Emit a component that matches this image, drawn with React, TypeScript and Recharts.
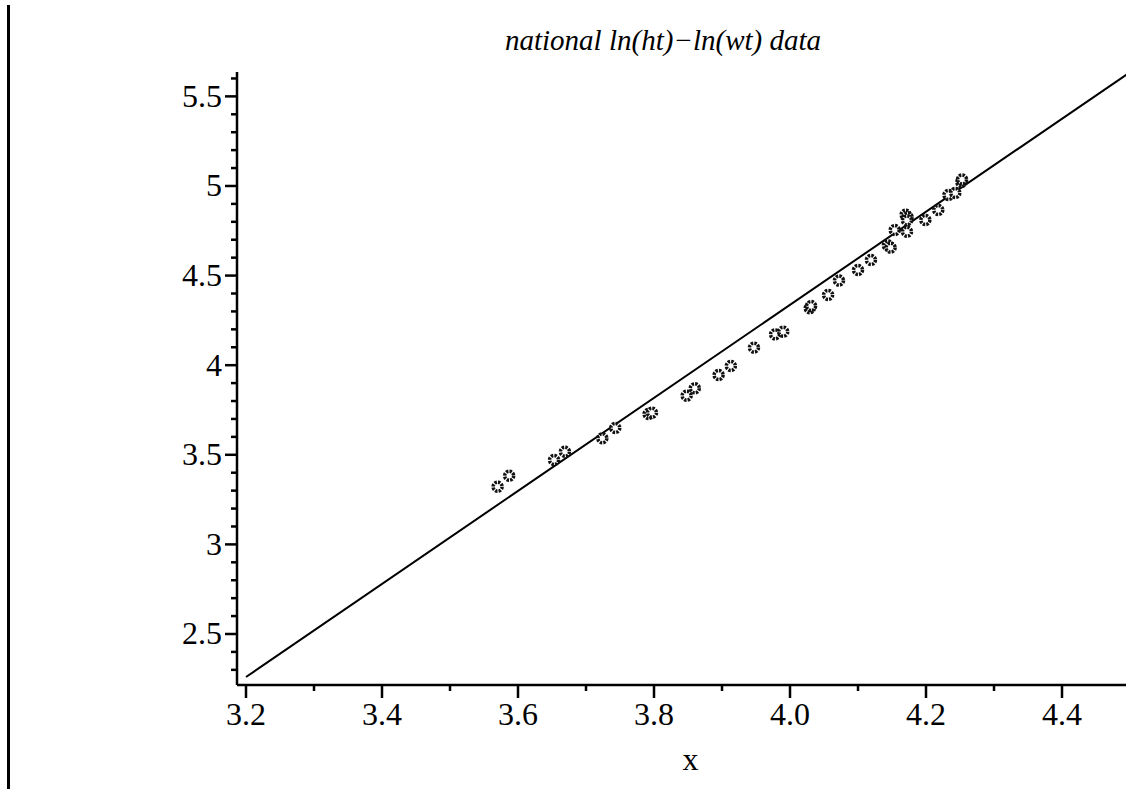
import React from 'react';
import { ScatterChart, Scatter, XAxis, YAxis } from 'recharts';

const lnHt = [
  3.570, 3.587, 3.653, 3.669, 3.724, 3.743, 3.792, 3.797, 3.848, 3.860,
  3.895, 3.913, 3.947, 3.978, 3.990, 4.029, 4.031, 4.056, 4.072, 4.100,
  4.119, 4.144, 4.148, 4.154, 4.172, 4.170, 4.173, 4.172, 4.199, 4.218,
  4.233, 4.243, 4.252, 4.253,
];
const lnWt = [
  3.322, 3.383, 3.471, 3.517, 3.592, 3.650, 3.728, 3.735, 3.830, 3.871,
  3.945, 3.996, 4.098, 4.172, 4.187, 4.318, 4.330, 4.392, 4.472, 4.531,
  4.587, 4.668, 4.656, 4.754, 4.745, 4.840, 4.825, 4.808, 4.810, 4.866,
  4.950, 4.961, 5.022, 5.036,
];

// fitted line endpoints
const fitX = [3.2, 4.5];
const fitY = [2.26, 5.635];

const xMajorTicks = [3.2, 3.4, 3.6, 3.8, 4.0, 4.2, 4.4];
const xMinorTicks = [3.3, 3.5, 3.7, 3.9, 4.1, 4.3];
const yMajorTicks = [2.5, 3, 3.5, 4, 4.5, 5, 5.5];
const yMinorTicks = [
  2.3, 2.4, 2.6, 2.7, 2.8, 2.9, 3.1, 3.2, 3.3, 3.4, 3.6, 3.7, 3.8, 3.9,
  4.1, 4.2, 4.3, 4.4, 4.6, 4.7, 4.8, 4.9, 5.1, 5.2, 5.3, 5.4, 5.6,
];

const points = lnHt.map((x, i) => ({ x, y: lnWt[i] }));
const fitLine = fitX.map((x, i) => ({ x, y: fitY[i] }));

const FONT = 'Liberation Serif, Times New Roman, serif';

const XTick = (props: any) => {
  const { x, y, payload } = props;
  const major = xMajorTicks.includes(payload.value);
  return (
    <g>
      <line x1={x} x2={x} y1={y} y2={y + (major ? 13 : 6)} stroke="#000" strokeWidth={2.5} />
      {major && (
        <text x={x} y={y + 40} textAnchor="middle" fontSize={32} style={{ fontFamily: FONT }} fill="#000">
          {payload.value.toFixed(1)}
        </text>
      )}
    </g>
  );
};

const YTick = (props: any) => {
  const { x, y, payload } = props;
  const major = yMajorTicks.includes(payload.value);
  return (
    <g>
      <line x1={x} x2={x - (major ? 12 : 6)} y1={y} y2={y} stroke="#000" strokeWidth={2.5} />
      {major && (
        <text x={x - 15} y={y + 10.5} textAnchor="end" fontSize={32} style={{ fontFamily: FONT }} fill="#000">
          {String(payload.value)}
        </text>
      )}
    </g>
  );
};

const Ring = (props: any) => {
  const { cx, cy } = props;
  if (cx == null || cy == null) return <g />;
  return (
    <circle cx={cx} cy={cy} r={4.5} fill="#fff" stroke="#111" strokeWidth={3.5} strokeDasharray="2.4 1.1" />
  );
};

export default function App() {
  return (
    <div style={{ position: 'absolute', left: 0, top: 0, width: 1126, height: 789, background: '#fff', fontFamily: FONT }}>
      <div style={{ position: 'absolute', left: 7, top: 5, width: 3, height: 784, background: '#000' }} />
      <div
        style={{
          position: 'absolute',
          left: 463,
          top: 26,
          width: 400,
          textAlign: 'center',
          fontFamily: FONT,
          fontStyle: 'italic',
          fontSize: 29,
          lineHeight: '29px',
          color: '#000',
          whiteSpace: 'nowrap',
        }}
      >
        national ln(ht)−ln(wt) data
      </div>
      <ScatterChart width={1126} height={789} margin={{ top: 72, right: 0, bottom: 0, left: 0 }}>
        <XAxis
          type="number"
          dataKey="x"
          domain={[3.18676, 4.4941]}
          allowDataOverflow
          ticks={[...xMajorTicks, ...xMinorTicks].sort((a, b) => a - b)}
          interval={0}
          height={104}
          tickSize={0}
          tickMargin={0}
          tickLine={false}
          tick={<XTick />}
          axisLine={{ stroke: '#000', strokeWidth: 2.5 }}
          label={{ value: 'x', position: 'insideBottom', offset: 19, dx: 9, fontSize: 32, style: { fontFamily: FONT }, fill: '#000' }}
        />
        <YAxis
          type="number"
          dataKey="y"
          domain={[2.2154, 5.636]}
          allowDataOverflow
          ticks={[...yMajorTicks, ...yMinorTicks].sort((a, b) => a - b)}
          interval={0}
          width={237}
          tickSize={0}
          tickMargin={0}
          tickLine={false}
          tick={<YTick />}
          axisLine={{ stroke: '#000', strokeWidth: 2.5 }}
        />
        <Scatter
          data={fitLine}
          line={{ stroke: '#000', strokeWidth: 2 }}
          stroke="#000"
          shape={() => <g />}
          isAnimationActive={false}
        />
        <Scatter data={points} shape={<Ring />} isAnimationActive={false} />
      </ScatterChart>
    </div>
  );
}
